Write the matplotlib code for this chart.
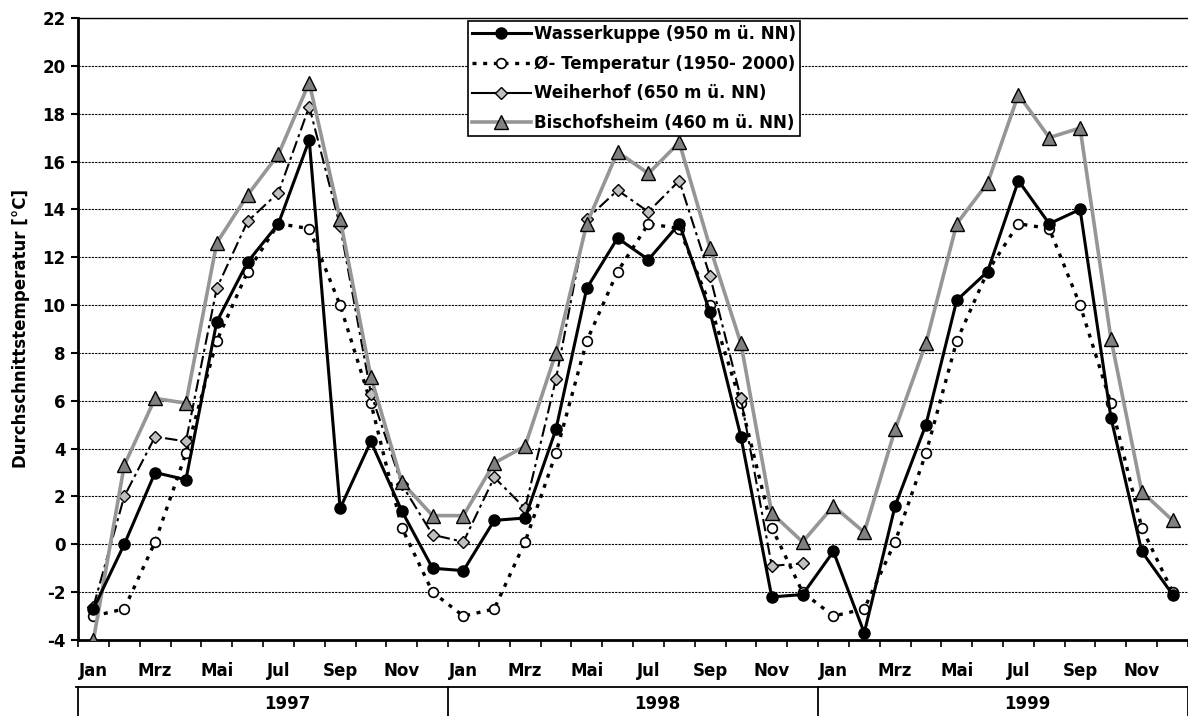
import numpy as np
import matplotlib
matplotlib.use("Agg")
from matplotlib import pyplot as plt, transforms
from matplotlib.lines import Line2D

plt.rcParams['font.family'] = ['DejaVu Sans']
plt.rcParams['font.weight'] = 'bold'
plt.rcParams['font.size'] = 12
plt.rcParams['axes.unicode_minus'] = False

# Daten

monate = ['Jan', 'Feb', 'Mrz', 'Apr', 'Mai', 'Jun',
          'Jul', 'Aug', 'Sep', 'Okt', 'Nov', 'Dez'] * 3
jahre = ['1997', '1998', '1999']

wasserkuppe = [-2.7, 0.0, 3.0, 2.7, 9.3, 11.8, 13.4, 16.9, 1.5, 4.3, 1.4, -1.0,
               -1.1, 1.0, 1.1, 4.8, 10.7, 12.8, 11.9, 13.4, 9.7, 4.5, -2.2, -2.1,
               -0.3, -3.7, 1.6, 5.0, 10.2, 11.4, 15.2, 13.4, 14.0, 5.3, -0.3, -2.1]
mittel = [-3.0, -2.7, 0.1, 3.8, 8.5, 11.4, 13.4, 13.2, 10.0, 5.9, 0.7, -2.0] * 3
weiherhof = [-2.6, 2.0, 4.5, 4.3, 10.7, 13.5, 14.7, 18.3, 13.3, 6.3, 2.5, 0.4,
             0.1, 2.8, 1.5, 6.9, 13.6, 14.8, 13.9, 15.2, 11.2, 6.1, -0.9, -0.8] + [np.nan] * 12
bischofsheim = [-4.0, 3.3, 6.1, 5.9, 12.6, 14.6, 16.3, 19.3, 13.6, 7.0, 2.6, 1.2,
                1.2, 3.4, 4.1, 8.0, 13.4, 16.4, 15.5, 16.8, 12.4, 8.4, 1.3, 0.1,
                1.6, 0.5, 4.8, 8.4, 13.4, 15.1, 18.8, 17.0, 17.4, 8.6, 2.2, 1.0]

labels = ['Wasserkuppe (950 m ü. NN)', 'Ø- Temperatur (1950- 2000)',
          'Weiherhof (650 m ü. NN)', 'Bischofsheim (460 m ü. NN)']

# Stile
st_w = dict(color='black', lw=2.2, marker='o', ms=8, mfc='black', mec='black')
st_m = dict(color='black', lw=2.4, dashes=(1.2, 2.0), marker='o', ms=7,
            mfc='white', mec='black', mew=1.2)
st_h = dict(color='black', lw=1.5, marker='D', ms=6.5, mfc='#c0c0c0',
            mec='black', mew=1.0)
st_b = dict(color='#969696', lw=2.6, marker='^', ms=10, mfc='#808080',
            mec='black', mew=1.0)

fig = plt.figure(figsize=(11.88, 7.16), dpi=100)
ax = fig.add_axes([78 / 1188, 1 - 640 / 716, 1110 / 1188, 622 / 716])

x = np.arange(1, len(monate) + 1)

ax.plot(x, mittel, zorder=2, **st_m)
ax.plot(x, weiherhof, zorder=3, dashes=(6, 2, 1.5, 2), **st_h)
ax.plot(x, bischofsheim, zorder=4, **st_b)
ax.plot(x, wasserkuppe, zorder=5, **st_w)

# Achsen
ax.set_xlim(0.5, len(monate) + 0.5)
ax.set_ylim(-4, 22)
ax.set_yticks(np.arange(-4, 23, 2))
ax.yaxis.grid(True, color='black', lw=0.8, linestyle=(0, (2, 1)))
ax.set_axisbelow(True)
ax.tick_params(axis='y', length=5, width=1.5, pad=4, labelsize=12)

ax.set_xticks(np.arange(0.5, len(monate) + 1, 1))
ax.set_xticklabels([])
ax.tick_params(axis='x', which='major', length=5, width=1.2)
ax.set_xticks(x[::2], minor=True)
ax.set_xticklabels(monate[::2], minor=True)
ax.tick_params(axis='x', which='minor', length=0, pad=16, labelsize=12)

for side in ['left', 'bottom']:
    ax.spines[side].set_linewidth(2)
ax.spines['top'].set_linewidth(1)
ax.spines['right'].set_visible(False)

ax.set_ylabel('Durchschnittstemperatur [°C]', fontsize=12, fontweight='bold')
ax.yaxis.set_label_coords(-0.043, 0.5)

# Jahreszeile unter der Achse
trans = transforms.blended_transform_factory(ax.transData, ax.transAxes)
y_top = (640 - 687) / 622
y_bot = (640 - 720) / 622
ax.plot([0.45, len(monate) + 0.5], [y_top, y_top], color='black', lw=1.3,
        transform=trans, clip_on=False)
for k in range(len(jahre) + 1):
    xb = 0.5 + 12 * k
    ax.plot([xb, xb], [y_top, y_bot], color='black', lw=1.3,
            transform=trans, clip_on=False)
for k, j in enumerate(jahre):
    ax.text(0.5 + 12 * k + 6.8, (640 - 704) / 622, j, transform=trans,
            ha='center', va='center', fontsize=12, fontweight='bold')

# Legende
handles = [Line2D([], [], **st_w), Line2D([], [], **st_m),
           Line2D([], [], **st_h), Line2D([], [], **st_b)]
leg = ax.legend(handles, labels, loc='upper left',
                bbox_to_anchor=((468 - 78) / 1110, (640 - 21) / 622),
                borderaxespad=0, borderpad=0.25, handlelength=3.5,
                handletextpad=0.2, labelspacing=0.7, fancybox=False,
                framealpha=1, edgecolor='black', fontsize=12)
leg.get_frame().set_linewidth(1.2)
leg.set_zorder(10)

fig.savefig('out.png', dpi=100)
